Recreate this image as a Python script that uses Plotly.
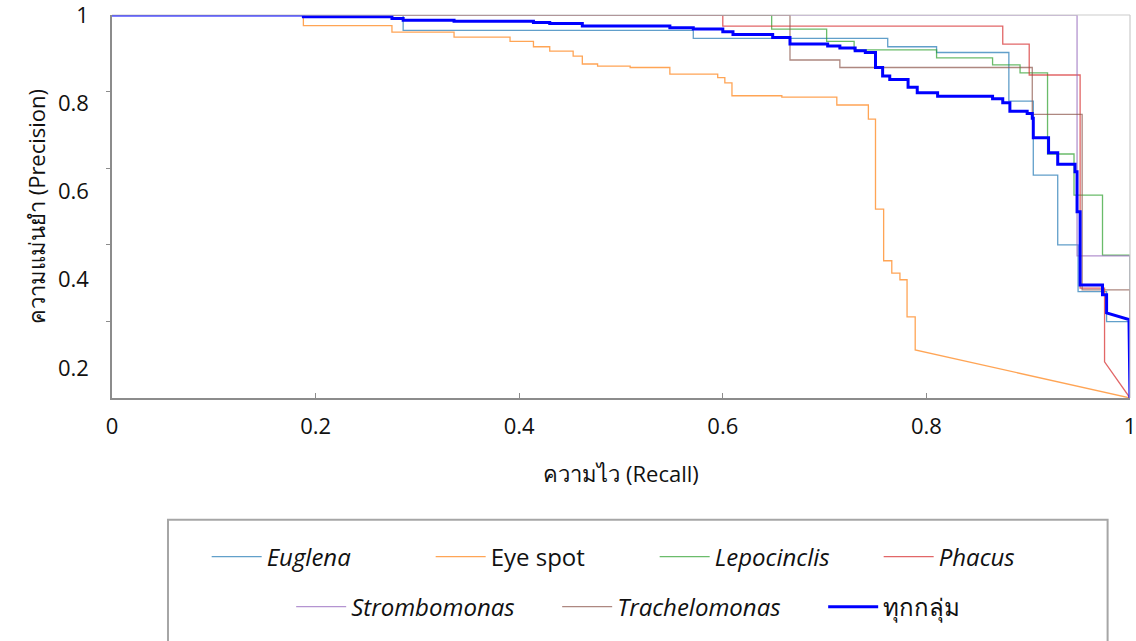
import plotly.graph_objects as go

# ---------------- data (precision-recall step curves) ----------------
# step points: at each recall value precision drops to the listed value
euglena_recall = [0.0, 0.286, 0.571, 0.762, 0.810, 0.881, 0.905, 0.929, 0.949, 0.977, 1.0]
euglena_precision = [1.0, 0.965, 0.947, 0.928, 0.915, 0.805, 0.637, 0.479, 0.373, 0.305, 0.132]
euglena_tail_recall = []
euglena_tail_precision = []

eyespot_recall = [0.0, 0.188, 0.275, 0.336, 0.391, 0.414, 0.430, 0.453, 0.462, 0.477, 0.509,
                  0.548, 0.595, 0.602, 0.609, 0.658, 0.712, 0.743, 0.750, 0.758, 0.766,
                  0.774, 0.781, 0.789]
eyespot_precision = [1.0, 0.976, 0.961, 0.950, 0.940, 0.928, 0.918, 0.907, 0.889, 0.884, 0.881,
                     0.866, 0.858, 0.846, 0.817, 0.814, 0.796, 0.764, 0.560, 0.443, 0.415,
                     0.400, 0.316, 0.241]
eyespot_tail_recall = [1.0]
eyespot_tail_precision = [0.132]

lepocinclis_recall = [0.0, 0.648, 0.702, 0.729, 0.810, 0.865, 0.892, 0.919, 0.945, 0.973, 1.0]
lepocinclis_precision = [1.0, 0.968, 0.940, 0.921, 0.903, 0.887, 0.869, 0.685, 0.592, 0.456, 0.132]
lepocinclis_tail_recall = []
lepocinclis_tail_precision = []

phacus_recall = [0.0, 0.600, 0.875, 0.901, 0.951, 0.975]
phacus_precision = [1.0, 0.975, 0.934, 0.864, 0.381, 0.214]
phacus_tail_recall = [1.0]
phacus_tail_precision = [0.132]

strombomonas_recall = [0.0, 0.948, 1.0]
strombomonas_precision = [1.0, 0.454, 0.132]
strombomonas_tail_recall = []
strombomonas_tail_precision = []

trachelomonas_recall = [0.0, 0.666, 0.715, 0.904, 0.953, 1.0]
trachelomonas_precision = [1.0, 0.898, 0.881, 0.775, 0.377, 0.132]
trachelomonas_tail_recall = []
trachelomonas_tail_precision = []

all_recall = [0.0, 0.188, 0.275, 0.286, 0.336, 0.414, 0.430, 0.462, 0.548, 0.571, 0.600,
              0.610, 0.649, 0.666, 0.703, 0.715, 0.730, 0.740, 0.750, 0.757, 0.764,
              0.782, 0.791, 0.811, 0.865, 0.875, 0.882, 0.899, 0.904, 0.905, 0.920,
              0.929, 0.946, 0.948, 0.951, 0.973, 0.977]
all_precision = [1.0, 0.996, 0.992, 0.988, 0.986, 0.983, 0.981, 0.975, 0.971, 0.968, 0.962,
                 0.956, 0.949, 0.934, 0.930, 0.925, 0.919, 0.915, 0.881, 0.862, 0.854,
                 0.836, 0.824, 0.816, 0.810, 0.801, 0.782, 0.777, 0.766, 0.722, 0.688,
                 0.662, 0.645, 0.554, 0.388, 0.366, 0.325]
all_tail_recall = [0.999, 1.0]
all_tail_precision = [0.310, 0.132]

series_names = ["<i>Euglena</i>", "Eye spot", "<i>Lepocinclis</i>", "<i>Phacus</i>",
                "<i>Strombomonas</i>", "<i>Trachelomonas</i>", "ทุกกลุ่ม"]

x_ticks = [0, 0.2, 0.4, 0.6, 0.8, 1]
x_ticktext = ["0", "0.2", "0.4", "0.6", "0.8", "1"]
y_ticks = [1, 0.8, 0.6, 0.4, 0.2]
y_ticktext = ["1", "0.8", "0.6", "0.4", "0.2"]
y_min = 0.132

# ---------------- styling ----------------
colors = ["#1f77b4", "#ff7f0e", "#2ca02c", "#d62728", "#9467bd", "#8c564b", "#0000ff"]
widths = [1.3, 1.3, 1.3, 1.3, 1.3, 1.3, 3]
opacities = [0.7, 0.7, 0.7, 0.7, 0.7, 0.7, 1.0]
legends = ["legend", "legend", "legend", "legend", "legend2", "legend2", "legend2"]

data = [
    (euglena_recall, euglena_precision, euglena_tail_recall, euglena_tail_precision),
    (eyespot_recall, eyespot_precision, eyespot_tail_recall, eyespot_tail_precision),
    (lepocinclis_recall, lepocinclis_precision, lepocinclis_tail_recall, lepocinclis_tail_precision),
    (phacus_recall, phacus_precision, phacus_tail_recall, phacus_tail_precision),
    (strombomonas_recall, strombomonas_precision, strombomonas_tail_recall, strombomonas_tail_precision),
    (trachelomonas_recall, trachelomonas_precision, trachelomonas_tail_recall, trachelomonas_tail_precision),
    (all_recall, all_precision, all_tail_recall, all_tail_precision),
]


def step_path(rec, prec, trec, tprec):
    xs, ys = [rec[0]], [prec[0]]
    for i in range(1, len(rec)):
        xs += [rec[i], rec[i]]
        ys += [prec[i - 1], prec[i]]
    xs += list(trec)
    ys += list(tprec)
    return xs, ys


fig = go.Figure()
for i, (rec, prec, trec, tprec) in enumerate(data):
    xs, ys = step_path(rec, prec, trec, tprec)
    fig.add_trace(go.Scatter(
        x=xs, y=ys, mode="lines", name=series_names[i],
        line=dict(color=colors[i], width=widths[i]),
        opacity=opacities[i], legend=legends[i], hoverinfo="skip",
    ))

font_main = "Open Sans, Noto Sans, sans-serif"

fig.update_layout(
    width=1136, height=641,
    margin=dict(l=112, r=6, t=15, b=243, autoexpand=False),
    plot_bgcolor="white", paper_bgcolor="white",
    font=dict(family=font_main, color="#111111", size=22),
    showlegend=True,
    legend=dict(orientation="h", x=0.093, xanchor="left", y=-0.415, yanchor="middle",
                font=dict(size=24, color="#111111"), entrywidth=159, itemwidth=50,
                bgcolor="rgba(0,0,0,0)", borderwidth=0),
    legend2=dict(orientation="h", x=0.176, xanchor="left", y=-0.546, yanchor="middle",
                 font=dict(size=24, color="#111111"), entrywidth=201, itemwidth=50,
                 bgcolor="rgba(0,0,0,0)", borderwidth=0),
)

fig.update_xaxes(
    range=[0, 1], tickvals=x_ticks, ticktext=x_ticktext,
    showgrid=False, zeroline=False, automargin=False,
    showline=True, linecolor="#8c8c8c", linewidth=1.5,
    ticks="inside", ticklen=5, tickcolor="#8c8c8c",
    ticklabelstandoff=8, ticklabeloverflow="allow", tickfont=dict(size=22),
    title=dict(text="ความไว (Recall)", font=dict(size=22), standoff=27),
)
fig.update_yaxes(
    range=[y_min, 1], tickvals=y_ticks, ticktext=y_ticktext,
    showgrid=False, zeroline=False, automargin=False,
    showline=True, linecolor="#8c8c8c", linewidth=1.5,
    ticks="", ticklabelstandoff=17, ticklabeloverflow="allow", tickfont=dict(size=22),
    minor=dict(tickvals=[y_min + t * (1 - y_min) for t in (0.2, 0.4, 0.6, 0.8)],
               ticks="outside", ticklen=4, tickcolor="#8c8c8c"),
    title=dict(text="ความแม่นยำ (Precision)", font=dict(size=22), standoff=6),
)

# light frame on top and right, legend box
fig.add_shape(type="line", xref="paper", yref="paper", x0=0, x1=1, y0=1, y1=1,
              line=dict(color="#cccccc", width=1.2))
fig.add_shape(type="line", xref="paper", yref="paper", x0=1, x1=1, y0=0, y1=1,
              line=dict(color="#cccccc", width=1.2))
fig.add_shape(type="rect", xref="paper", yref="paper",
              x0=0.055, x1=0.978, y0=-0.318, y1=-0.64,
              line=dict(color="#a6a6a6", width=2), fillcolor="rgba(0,0,0,0)")

fig.write_html(
    "out.html",
    config={"displayModeBar": False},
    post_script="document.body.style.margin='0';document.body.style.overflow='hidden';",
)
